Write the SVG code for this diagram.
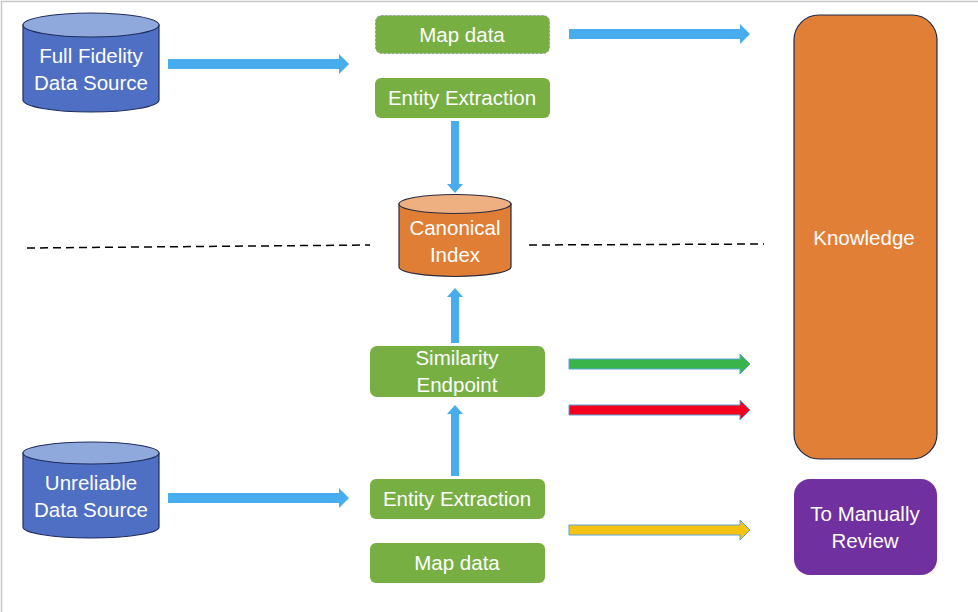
<svg xmlns="http://www.w3.org/2000/svg" width="978" height="612" viewBox="0 0 978 612">
<style>
text{font-family:"Liberation Sans",Arial,sans-serif;font-size:20.5px;fill:#fff;text-anchor:middle}
.blue{fill:#8FA9DC;stroke:#1F2D5C;stroke-width:1.2}
.bluebody{fill:#4F6FC4;stroke:#1F2D5C;stroke-width:1.2}
.green{fill:#77AF43}
.arr{fill:#48ADEE}
.outl{stroke:#5BA3D8;stroke-width:1}
.dash{stroke:#000;stroke-width:1.5;stroke-dasharray:8 5;fill:none}
</style>
<rect width="978" height="612" fill="#fff"/>
<path d="M1.5,612 L1.5,1.5 L978,1.5" fill="none" stroke="#C8C8C8" stroke-width="1.5"/>

<g id="full-fidelity">
<path class="bluebody" d="M23,25 L23,100 A68,12 0 0 0 159,100 L159,25 Z"/>
<ellipse class="blue" cx="91" cy="25" rx="68" ry="12"/>
<text x="91" y="62.5">Full Fidelity</text>
<text x="91" y="89.5">Data Source</text>
</g>

<g id="map-data-top">
<rect x="375.5" y="15.5" width="174" height="38" rx="6" class="green" stroke="#9A9A9A" stroke-width="1" stroke-dasharray="2 2"/>
<text x="462" y="41.5">Map data</text>
</g>

<g id="entity-extraction-top">
<rect x="375" y="78" width="175" height="40" rx="6" class="green"/>
<text x="462" y="104.5">Entity Extraction</text>
</g>

<g id="canonical-index">
<path d="M399,204 L399,267 A56,9.5 0 0 0 511,267 L511,204 Z" fill="#E07E35" stroke="#2A2A40" stroke-width="1.2"/>
<ellipse cx="455" cy="204" rx="56" ry="9.5" fill="#EEB080" stroke="#2A2A40" stroke-width="1.2"/>
<text x="455" y="234.5">Canonical</text>
<text x="455" y="261.5">Index</text>
</g>

<g id="knowledge">
<rect x="794" y="15" width="143" height="444" rx="25" fill="#E27F37" stroke="#1F2A4A" stroke-width="1.2"/>
<text x="864" y="244.5">Knowledge</text>
</g>

<g id="similarity-endpoint">
<rect x="370" y="346" width="175" height="51" rx="7" class="green"/>
<text x="457" y="364.5">Similarity</text>
<text x="457" y="391.5">Endpoint</text>
</g>

<g id="unreliable">
<path class="bluebody" d="M23,453 L23,527 A68,11 0 0 0 159,527 L159,453 Z"/>
<ellipse class="blue" cx="91" cy="453" rx="68" ry="11"/>
<text x="91" y="489.5">Unreliable</text>
<text x="91" y="516.5">Data Source</text>
</g>

<g id="entity-extraction-bottom">
<rect x="370" y="479" width="175" height="40" rx="6" class="green"/>
<text x="457" y="505.5">Entity Extraction</text>
</g>

<g id="map-data-bottom">
<rect x="370" y="543" width="175" height="40" rx="6" class="green"/>
<text x="457" y="569.5">Map data</text>
</g>

<g id="manual-review">
<rect x="794" y="479" width="143" height="96" rx="16" fill="#7030A0"/>
<text x="865" y="520.5">To Manually</text>
<text x="865" y="547.5">Review</text>
</g>

<g id="connectors">
<path class="dash" d="M27,248 L370,245"/>
<path class="dash" d="M529,245 L764,244"/>
<polygon class="arr" points="168,59 339,59 339,54 349,64 339,74 339,69 168,69"/>
<polygon class="arr" points="168,493 339,493 339,488 349,498 339,508 339,503 168,503"/>
<polygon class="arr" points="569,29 740,29 740,24 750,34 740,44 740,39 569,39"/>
<polygon class="arr" points="451,121 459,121 459,184 463,184 455,193 447,184 451,184"/>
<polygon class="arr" points="451,343 459,343 459,297 463,297 455,288 447,297 451,297"/>
<polygon class="arr" points="451,476 459,476 459,414 463,414 455,405 447,414 451,414"/>
<polygon class="outl" fill="#38B44A" points="569,359 740,359 740,354 750,364 740,374 740,369 569,369"/>
<polygon class="outl" fill="#F40021" points="569,405 740,405 740,400 750,410 740,420 740,415 569,415"/>
<polygon class="outl" fill="#F5C314" points="569,525 740,525 740,520 750,530 740,540 740,535 569,535"/>
</g>
</svg>
